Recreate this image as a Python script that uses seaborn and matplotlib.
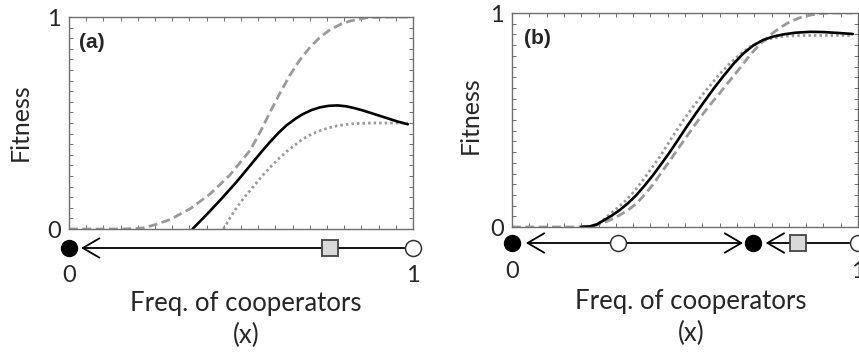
import matplotlib
matplotlib.use("Agg")
import matplotlib.pyplot as plt
from matplotlib.ticker import MultipleLocator
import seaborn as sns

# ---- panel (a) curves ----
a_dash_x = [0.0, 0.10, 0.16, 0.215, 0.25, 0.294, 0.352, 0.41, 0.468, 0.526, 0.555, 0.584, 0.613,
            0.642, 0.67, 0.701, 0.73, 0.759, 0.79, 0.817, 0.85, 0.875, 0.93, 0.985]
a_dash_y = [0.0, 0.0, 0.0, 0.005, 0.02, 0.045, 0.095, 0.165, 0.255, 0.37, 0.455, 0.55, 0.64,
            0.725, 0.795, 0.858, 0.905, 0.94, 0.966, 0.981, 0.992, 0.998, 1.0, 1.0]

a_solid_x = [0.359, 0.40, 0.44, 0.487, 0.536, 0.56, 0.584, 0.61, 0.633, 0.66, 0.68, 0.705, 0.73,
             0.755, 0.78, 0.805, 0.83, 0.855, 0.88, 0.905, 0.93, 0.955, 0.985]
a_solid_y = [0.0, 0.068, 0.137, 0.222, 0.318, 0.365, 0.41, 0.455, 0.49, 0.522, 0.542, 0.561, 0.574,
             0.581, 0.583, 0.579, 0.57, 0.559, 0.546, 0.533, 0.52, 0.507, 0.494]

a_dot_x = [0.449, 0.465, 0.487, 0.51, 0.536, 0.56, 0.584, 0.61, 0.633, 0.66, 0.68, 0.705, 0.73,
           0.755, 0.78, 0.805, 0.83, 0.88, 0.985]
a_dot_y = [0.0, 0.045, 0.10, 0.15, 0.20, 0.247, 0.29, 0.332, 0.366, 0.40, 0.425, 0.447, 0.464,
           0.477, 0.487, 0.493, 0.497, 0.50, 0.50]

# ---- panel (b) curves ----
b_dash_x = [0.0, 0.18, 0.22, 0.25, 0.28, 0.312, 0.336, 0.36, 0.384, 0.408, 0.432, 0.457, 0.481,
            0.505, 0.529, 0.553, 0.577, 0.601, 0.63, 0.66, 0.688, 0.717, 0.746, 0.775, 0.803,
            0.832, 0.861, 0.89, 0.919, 0.985]
b_dash_y = [0.0, 0.0, 0.004, 0.012, 0.03, 0.056, 0.08, 0.11, 0.152, 0.20, 0.255, 0.312, 0.368,
            0.423, 0.478, 0.531, 0.58, 0.627, 0.685, 0.745, 0.804, 0.855, 0.897, 0.932, 0.959,
            0.978, 0.99, 0.997, 1.0, 1.0]

b_solid_x = [0.20, 0.225, 0.245, 0.264, 0.288, 0.312, 0.336, 0.36, 0.384, 0.408, 0.432, 0.457,
             0.481, 0.505, 0.529, 0.553, 0.582, 0.611, 0.64, 0.668, 0.697, 0.726, 0.755, 0.784,
             0.82, 0.861, 0.90, 0.94, 0.985]
b_solid_y = [0.0, 0.003, 0.012, 0.03, 0.053, 0.08, 0.112, 0.15, 0.195, 0.243, 0.296, 0.352,
             0.41, 0.469, 0.525, 0.58, 0.645, 0.705, 0.762, 0.81, 0.848, 0.874, 0.89, 0.90,
             0.908, 0.912, 0.911, 0.907, 0.902]

b_dot_x = [0.22, 0.24, 0.26, 0.283, 0.307, 0.331, 0.355, 0.379, 0.403, 0.428, 0.452, 0.476,
           0.50, 0.524, 0.548, 0.572, 0.60, 0.63, 0.66, 0.688, 0.717, 0.746, 0.775, 0.803,
           0.85, 0.985]
b_dot_y = [0.0, 0.008, 0.028, 0.06, 0.092, 0.127, 0.17, 0.22, 0.274, 0.33, 0.392, 0.453,
           0.51, 0.563, 0.613, 0.66, 0.715, 0.765, 0.808, 0.842, 0.866, 0.88, 0.889, 0.893,
           0.895, 0.895]

# ---- phase lines: fixed points ----
a_stable = [0.0]
a_unstable = [1.0]
a_square = [0.759]
b_stable = [0.0, 0.697]
b_unstable = [0.306, 1.0]
b_square = [0.827]

W, H = 859, 352
sns.set_style("white")
plt.rcParams["font.family"] = ["Lato", "DejaVu Sans"]

fig = plt.figure(figsize=(W / 100, H / 100), dpi=100)

gray = "#9a9a9a"
spine_c = "#6e6e6e"
txt_c = "#262626"


def px_axes(l, t, r, b):
    return fig.add_axes([l / W, 1 - b / H, (r - l) / W, (b - t) / H])


def draw_panel(ax, dash, solid, dot, tag, tag_xy):
    sns.lineplot(x=dash[0], y=dash[1], ax=ax, color=gray, lw=2.0,
                 linestyle=(0, (3.2, 1.6)), sort=False)
    sns.lineplot(x=dot[0], y=dot[1], ax=ax, color=gray, lw=2.0,
                 linestyle=(0, (0.9, 1.1)), sort=False)
    sns.lineplot(x=solid[0], y=solid[1], ax=ax, color="black", lw=1.9, sort=False)
    ax.set_xlim(0, 1.0)
    ax.set_ylim(0, 1.0)
    ax.set_xticks([])
    ax.set_yticks([0, 1])
    ax.set_yticklabels(["0", "1"], fontsize=17, color=txt_c)
    ax.xaxis.set_minor_locator(MultipleLocator(0.05))
    ax.yaxis.set_minor_locator(MultipleLocator(0.05))
    ax.tick_params(axis="y", which="major", length=0, pad=6)
    ax.tick_params(which="minor", direction="in", length=3, width=0.7, color=spine_c,
                   top=True, bottom=True, left=True, right=True)
    for s in ax.spines.values():
        s.set_color(spine_c)
        s.set_linewidth(1.0)
    ax.set_xlabel("")
    ax.set_ylabel("")
    ax.text(tag_xy[0], tag_xy[1], tag, transform=ax.transAxes, fontsize=15, fontweight="bold",
            family="Liberation Sans", va="center", ha="left", color=txt_c)


def draw_phase(axp, stable, unstable, square, arrows):
    axp.set_xlim(0, 1.0)
    axp.set_ylim(-1, 1)
    axp.axis("off")
    for x0, x1 in arrows:
        axp.annotate("", xy=(x1, 0), xytext=(x0, 0),
                     arrowprops=dict(arrowstyle="->,head_length=0.6,head_width=0.35",
                                     lw=1.3, color="black", mutation_scale=20,
                                     shrinkA=0, shrinkB=0),
                     annotation_clip=False)
    axp.plot(square, [0] * len(square), ls="none", marker="s", ms=12, mfc="#d9d9d9",
             mec="#444444", mew=1.3, clip_on=False, zorder=5)
    axp.plot(stable, [0] * len(stable), ls="none", marker="o", ms=11.5, mfc="black",
             mec="black", clip_on=False, zorder=5)
    axp.plot(unstable, [0] * len(unstable), ls="none", marker="o", ms=11.5, mfc="white",
             mec="#333333", mew=1.1, clip_on=False, zorder=5)


def labels(ax, axp, fit_x, fit_y, lab_y):
    axp.text(0, lab_y, "0", ha="center", va="center", fontsize=17, color=txt_c)
    axp.text(1, lab_y, "1", ha="center", va="center", fontsize=17, color=txt_c)
    ax.text(fit_x, fit_y, "Fitness", rotation=90, ha="center", va="center",
            transform=ax.transAxes, fontsize=18, color=txt_c)


# panel (a)
ax_a = px_axes(69, 17, 413, 229)
draw_panel(ax_a, (a_dash_x, a_dash_y), (a_solid_x, a_solid_y), (a_dot_x, a_dot_y), "(a)",
           (0.03, 0.88))
axp_a = px_axes(69, 238, 413, 258)
draw_phase(axp_a, a_stable, a_unstable, a_square, [(0.975, 0.035)])
labels(ax_a, axp_a, -0.142, 0.505, -2.7)
fig.text(246 / W, 1 - 303 / H, "Freq. of cooperators", ha="center", va="center",
         fontsize=18.5, color=txt_c)
fig.text(246 / W, 1 - 335 / H, "(x)", ha="center", va="center", fontsize=18.5, color=txt_c)

# panel (b)
ax_b = px_axes(512, 13, 858, 227)
draw_panel(ax_b, (b_dash_x, b_dash_y), (b_solid_x, b_solid_y), (b_dot_x, b_dot_y), "(b)",
           (0.036, 0.88))
axp_b = px_axes(512, 233, 858, 253)
draw_phase(axp_b, b_stable, b_unstable, b_square,
           [(0.29, 0.04), (0.32, 0.668), (0.975, 0.733)])
labels(ax_b, axp_b, -0.121, 0.523, -2.9)
fig.text(691 / W, 1 - 301 / H, "Freq. of cooperators", ha="center", va="center",
         fontsize=18.5, color=txt_c)
fig.text(691 / W, 1 - 333 / H, "(x)", ha="center", va="center", fontsize=18.5, color=txt_c)

fig.savefig("out.png", dpi=100)
